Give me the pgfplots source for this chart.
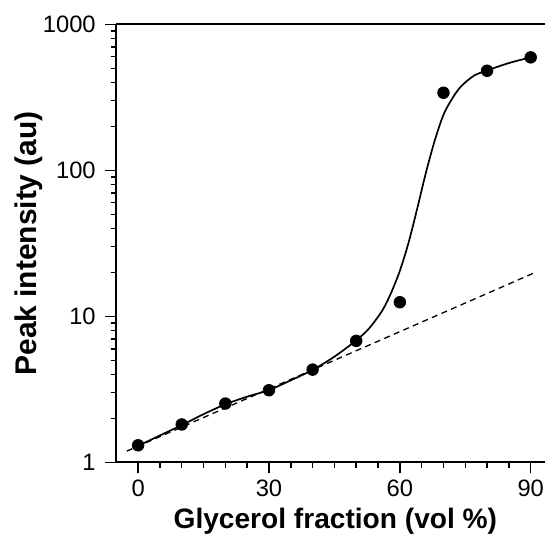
\documentclass[border=0pt]{standalone}
\usepackage{pgfplots}
\pgfplotsset{compat=1.18}
\usepackage{fontspec}
\setmainfont{Liberation Sans}
\begin{document}
\begin{tikzpicture}
\begin{axis}[
  scale only axis,
  width=214.15bp, height=218.85bp,
  xmin=-5, xmax=93.28,
  ymode=log, ymin=1, ymax=1000,
  axis lines*=left,
  axis line style={line width=1bp},
  tick align=outside,
  xtick={0,30,60,90}, xticklabels={0,30,60,90},
  minor x tick num=5,
  ytick={1,10,100,1000}, yticklabels={1,10,100,1000},
  major tick length=5.5bp, minor tick length=2.8bp,
  every tick/.style={black, line width=0.75bp},
  tick label style={font=\fontsize{11.9}{13}\selectfont},
  xticklabel style={anchor=north, inner sep=0pt, yshift=-2.9bp},
  yticklabel style={anchor=east, inner sep=0pt, xshift=-4.6bp},
  xlabel={Glycerol fraction (vol \%)},
  ylabel={Peak intensity (au)},
  xlabel style={at={(axis description cs:0.511,-0.1516)}, anchor=base, inner sep=0pt,
    font=\bfseries\fontsize{14.1}{16}\selectfont},
  ylabel style={at={(axis description cs:-0.186,0.5)}, anchor=base, inner sep=0pt,
    font=\bfseries\fontsize{15}{17}\selectfont},
  clip=false,
]
\draw[line width=1bp] (rel axis cs:0,1) -- (rel axis cs:1,1);
% dashed baseline
\addplot[black, line width=0.65bp, dash pattern=on 3bp off 2.2bp] coordinates {(-2.6,1.195) (90.7,19.8)};
% fitted curve
\addplot[black, line width=0.85bp, smooth, tension=0.5] coordinates {
(0,1.30) (5,1.53) (10,1.80) (15,2.14) (20,2.50) (25,2.82) (30,3.13) (35,3.65)
(40,4.30) (45,5.30) (50,6.85) (53,8.3) (56,11.0) (58,14.5) (60,20.5) (62,32)
(64,55) (66,97) (68,160) (70,240) (72,310) (74,375) (77,445) (80,483) (85,543) (90,594)
};
% data points
\addplot[only marks, mark=*, mark size=2.9bp, black, mark options={fill=black}] coordinates {
(0,1.31) (10,1.82) (20,2.53) (30,3.12) (40,4.32) (50,6.80) (60,12.5) (70,340) (80,481) (90,594)
};
\end{axis}
\pgfresetboundingbox
\path[use as bounding box] ([xshift=-58.1bp,yshift=-36.5bp]current axis.south west) rectangle ([yshift=12.15bp]current axis.north east);
\end{tikzpicture}
\end{document}
